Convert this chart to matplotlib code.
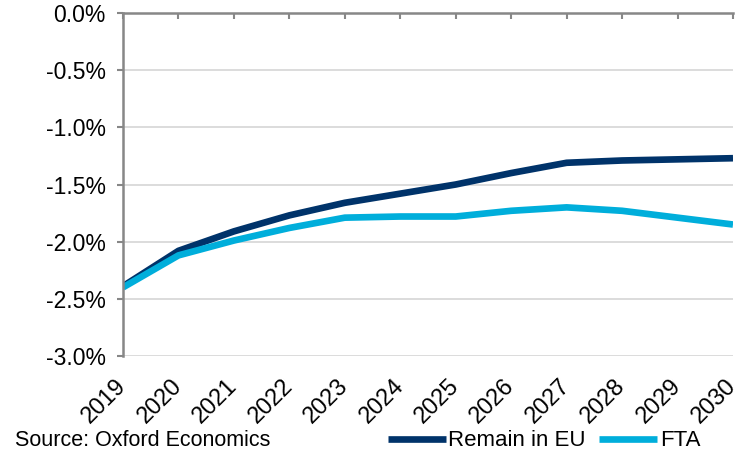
import matplotlib
matplotlib.use("Agg")
import matplotlib.pyplot as plt
from matplotlib.ticker import FuncFormatter

plt.rcParams["font.family"] = ["Liberation Sans", "DejaVu Sans"]
plt.rcParams["axes.unicode_minus"] = False

years = [2019, 2020, 2021, 2022, 2023, 2024, 2025, 2026, 2027, 2028, 2029, 2030]
remain_eu = [-2.39, -2.08, -1.91, -1.77, -1.66, -1.58, -1.50, -1.40, -1.31, -1.29, -1.28, -1.27]
fta = [-2.40, -2.12, -1.99, -1.88, -1.79, -1.78, -1.78, -1.73, -1.70, -1.73, -1.79, -1.85]

fig = plt.figure(figsize=(7.41, 4.58), dpi=100)
ax = fig.add_axes([123 / 741, 1 - 356 / 458, 610 / 741, 343 / 458])

ax.plot(years, remain_eu, color="#00336A", lw=4.8, label="Remain in EU", solid_capstyle="butt")
ax.plot(years, fta, color="#00AEDB", lw=4.8, label="FTA", solid_capstyle="butt")

ax.set_xlim(2019, 2030)
ax.set_ylim(-3.0, 0.0)
ax.set_yticks([0, -0.5, -1.0, -1.5, -2.0, -2.5, -3.0])
ax.yaxis.set_major_formatter(FuncFormatter(lambda v, p: f"{v:.1f}%"))
ax.set_xticks(years)
ax.set_xticklabels([str(y) for y in years], rotation=45, ha="right", va="center",
                   rotation_mode="anchor")

ax.grid(axis="y", color="#D9D9D9", lw=1.3)
ax.set_axisbelow(True)
for s in ["bottom", "right"]:
    ax.spines[s].set_visible(False)
for s in ["top", "left"]:
    ax.spines[s].set_color("#878787")
    ax.spines[s].set_linewidth(1.8)

ax.tick_params(axis="x", top=True, bottom=False, labeltop=False, labelbottom=True,
               direction="in", length=4.5, width=1.5, color="#878787", labelsize=17, pad=19)
ax.tick_params(axis="y", direction="out", length=4.5, width=1.5, color="#878787",
               labelsize=16.5, pad=8)

fig.legend(loc="center right", bbox_to_anchor=(0.972, 1 - 441 / 458), ncol=2, frameon=False,
           fontsize=16, handlelength=2.6, handletextpad=0.12, columnspacing=0.6)
fig.text(0.02, 1 - 441 / 458, "Source: Oxford Economics", fontsize=15.5, va="center", ha="left")

fig.savefig("out.png", dpi=100)
